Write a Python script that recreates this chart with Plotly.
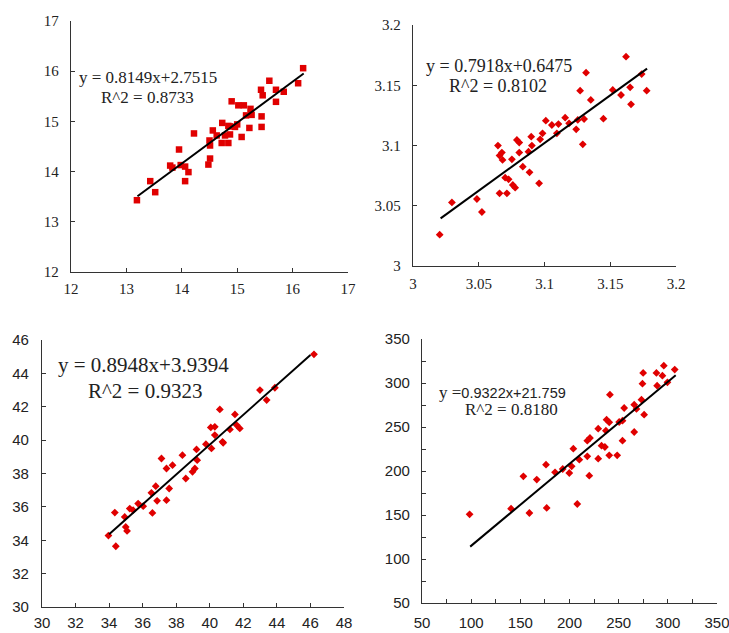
import plotly.graph_objects as go

W, H = 729, 633

# ---------------- data ----------------
p1_x = [13.19, 13.43, 13.52, 13.79, 13.83, 13.95, 13.98, 14.06, 14.06, 14.12, 14.22,
        14.48, 14.51, 14.50, 14.51, 14.56, 14.63, 14.72, 14.73, 14.78, 14.84, 14.84,
        14.87, 14.90, 14.87, 14.96, 15.00, 15.02, 15.08, 15.12, 15.16, 15.22, 15.24,
        15.26, 15.43, 15.44, 15.44, 15.46, 15.58, 15.70, 15.70, 15.84, 16.10, 16.19]
p1_y = [13.43, 13.81, 13.59, 14.12, 14.08, 14.44, 14.13, 14.10, 13.81, 13.99, 14.76,
        14.14, 14.26, 14.62, 14.52, 14.82, 14.72, 14.57, 14.97, 14.72, 14.57, 14.91,
        14.74, 15.40, 14.90, 14.89, 14.94, 15.32, 14.69, 15.32, 15.12, 14.87, 15.25,
        15.13, 15.63, 15.10, 14.89, 15.52, 15.81, 15.63, 15.39, 15.59, 15.76, 16.06]

p2_x = [3.0203, 3.0296, 3.0486, 3.0524, 3.0646, 3.0658, 3.0676, 3.0681, 3.0658, 3.0714,
        3.0701, 3.0727, 3.0752, 3.0759, 3.0777, 3.0790, 3.0808, 3.0808, 3.0835, 3.0878,
        3.0886, 3.0899, 3.0904, 3.0959, 3.0967, 3.0985, 3.1010, 3.1056, 3.1094, 3.1106,
        3.1157, 3.1187, 3.1241, 3.1253, 3.1271, 3.1301, 3.1291, 3.1352, 3.1316, 3.1448,
        3.1519, 3.1582, 3.1620, 3.1651, 3.1658, 3.1739, 3.1777]
p2_y = [3.0260, 3.0528, 3.0556, 3.0448, 3.0999, 3.0916, 3.0941, 3.0880, 3.0603, 3.0603,
        3.0733, 3.0719, 3.0885, 3.0672, 3.0650, 3.1046, 3.1024, 3.0941, 3.0824, 3.0949,
        3.0777, 3.1073, 3.0999, 3.0686, 3.1051, 3.1101, 3.1206, 3.1170, 3.1101, 3.1178,
        3.1231, 3.1184, 3.1134, 3.1212, 3.1455, 3.1220, 3.1010, 3.1378, 3.1604, 3.1223,
        3.1461, 3.1419, 3.1737, 3.1483, 3.1342, 3.1593, 3.1455]

p3_x = [33.96, 34.34, 34.40, 34.93, 34.99, 35.07, 35.23, 35.43, 35.73, 36.03, 36.58,
        36.52, 36.78, 36.86, 37.12, 37.42, 37.42, 37.58, 37.78, 38.37, 38.57, 38.97,
        39.11, 39.21, 39.25, 39.77, 40.10, 40.06, 40.30, 40.30, 40.60, 40.76, 40.80,
        41.20, 41.50, 41.60, 41.79, 42.99, 43.39, 43.88, 46.21]
p3_y = [34.28, 35.66, 33.64, 35.40, 34.80, 34.56, 35.90, 35.80, 36.20, 36.04, 35.64,
        36.84, 37.24, 36.36, 38.90, 36.40, 38.30, 37.10, 38.50, 39.10, 37.70, 38.10,
        38.30, 39.44, 38.80, 39.76, 39.50, 40.76, 40.80, 40.30, 41.84, 39.90, 39.84,
        40.64, 41.54, 40.90, 40.70, 43.00, 42.40, 43.14, 45.14]

p4_x = [98.4, 140.6, 153.1, 159.2, 166.7, 176.1, 176.8, 185.3, 193.1, 199.8, 202.2,
        203.9, 207.9, 210.0, 218.1, 218.1, 220.8, 220.1, 229.2, 229.2, 232.6, 236.0,
        237.0, 237.7, 240.4, 240.4, 241.1, 248.5, 250.5, 253.9, 253.9, 255.6, 265.8,
        265.8, 268.1, 273.2, 274.2, 274.9, 275.9, 288.4, 289.1, 294.5, 295.9, 299.6, 307.0]
p4_y = [150.8, 157.2, 193.9, 152.3, 190.2, 207.2, 158.0, 198.5, 202.3, 197.7, 205.3,
        225.4, 162.5, 212.9, 216.7, 234.5, 237.5, 194.7, 248.1, 214.0, 228.8, 227.3,
        245.8, 258.3, 255.3, 217.8, 286.7, 217.8, 255.7, 234.5, 257.2, 271.6, 244.3,
        275.4, 270.5, 281.1, 299.2, 311.4, 264.0, 311.4, 297.0, 308.3, 319.7, 300.8, 315.2]

# fitted lines: slope, intercept, x-start, x-end
fit_slope = [0.8149, 0.7918, 0.8948, 0.9322]
fit_icpt = [2.7515, 0.6475, 3.9394, 21.759]
fit_x0 = [13.2, 3.021, 34.0, 99.0]
fit_x1 = [16.2, 3.178, 46.0, 308.0]

eq_text = ["y = 0.8149x+2.7515", "y = 0.7918x+0.6475", "y = 0.8948x+3.9394", "y =0.9322x+21.759"]
r2_text = ["R^2 = 0.8733", "R^2 = 0.8102", "R^2 = 0.9323", "R^2 = 0.8180"]

ax_ranges = [([12, 17], [12, 17]), ([3, 3.2], [3, 3.2]), ([30, 48], [30, 46]), ([50, 350], [50, 350])]
ax_dticks = [1, 0.05, 2, 50]

# ---------------- layout helpers ----------------
def fx(px):
    return px / W

def fy(py):
    return 1 - py / H

# pixel boxes (left, right, top, bottom)
boxes = [(71, 348, 21, 272), (413, 676, 25, 266), (42, 344, 340, 607), (422, 717, 339, 603)]
tick_fonts = [
    dict(family="Liberation Serif", size=15, color="#222"),
    dict(family="Liberation Serif", size=15, color="#222"),
    dict(family="Liberation Sans", size=15, color="#222"),
    dict(family="Liberation Sans", size=15, color="#222"),
]
x_standoff = [3, 4, 2, 6]
y_standoff = [8, 8, 9, 8]
symbols = ["square", "diamond", "diamond", "diamond"]
msizes = [6.5, 6, 6, 6]
RED = "#e00000"

xs = [p1_x, p2_x, p3_x, p4_x]
ys = [p1_y, p2_y, p3_y, p4_y]

fig = go.Figure()
layout = dict(width=W, height=H, margin=dict(l=0, r=0, t=0, b=0, autoexpand=False),
              paper_bgcolor="white", plot_bgcolor="white", showlegend=False)

for i in range(4):
    sx = "" if i == 0 else str(i + 1)
    xa, ya = "x" + sx, "y" + sx
    fig.add_trace(go.Scatter(x=xs[i], y=ys[i], mode="markers", xaxis=xa, yaxis=ya,
                             marker=dict(symbol=symbols[i], size=msizes[i], color=RED,
                                         line=dict(width=0))))
    lx = [fit_x0[i], fit_x1[i]]
    ly = [fit_slope[i] * v + fit_icpt[i] for v in lx]
    fig.add_trace(go.Scatter(x=lx, y=ly, mode="lines", xaxis=xa, yaxis=ya,
                             line=dict(color="black", width=2)))
    l, r, t, b = boxes[i]
    common = dict(showline=True, linecolor="#333", linewidth=1.3, ticks="inside",
                  ticklen=4, tickcolor="#333", tickwidth=1, showgrid=False, zeroline=False,
                  tickfont=tick_fonts[i], dtick=ax_dticks[i], automargin=False,
                  ticklabeloverflow="allow")
    xax = dict(common, domain=[fx(l), fx(r)], range=ax_ranges[i][0], anchor=ya,
               tick0=ax_ranges[i][0][0], ticklabelstandoff=x_standoff[i])
    yax = dict(common, domain=[fy(b), fy(t)], range=ax_ranges[i][1], anchor=xa,
               tick0=ax_ranges[i][1][0], ticklabelstandoff=y_standoff[i])
    if i == 3:
        xax["minor"] = dict(ticks="inside", dtick=25, ticklen=4, tickcolor="#333")
        yax["minor"] = dict(ticks="inside", dtick=25, ticklen=4, tickcolor="#333")
    layout["xaxis" + sx] = xax
    layout["yaxis" + sx] = yax

fig.update_layout(**layout)

# equation annotations (pixel positions)
eq_pos = [(147.5, 78), (499, 66), (143, 365), (502, 392)]
r2_pos = [(147.5, 97), (498, 86), (145, 391), (512, 409)]
eq_sizes = [17, 18, 21, 17]
for i in range(4):
    txt = eq_text[i]
    if i == 3:
        txt = 'y =<span style="font-family:Liberation Sans;font-size:14.5px">0.9322x+21.759</span>'
    fig.add_annotation(x=fx(eq_pos[i][0]), y=fy(eq_pos[i][1]), xref="paper", yref="paper",
                       text=txt, showarrow=False, xanchor="center", yanchor="middle",
                       font=dict(family="Liberation Serif", size=eq_sizes[i], color="#222"))
    fig.add_annotation(x=fx(r2_pos[i][0]), y=fy(r2_pos[i][1]), xref="paper", yref="paper",
                       text=r2_text[i], showarrow=False, xanchor="center", yanchor="middle",
                       font=dict(family="Liberation Serif", size=eq_sizes[i], color="#222"))

fig.write_html("out.html", config={"displayModeBar": False},
               post_script="document.body.style.margin='0';document.body.style.overflow='hidden';")
